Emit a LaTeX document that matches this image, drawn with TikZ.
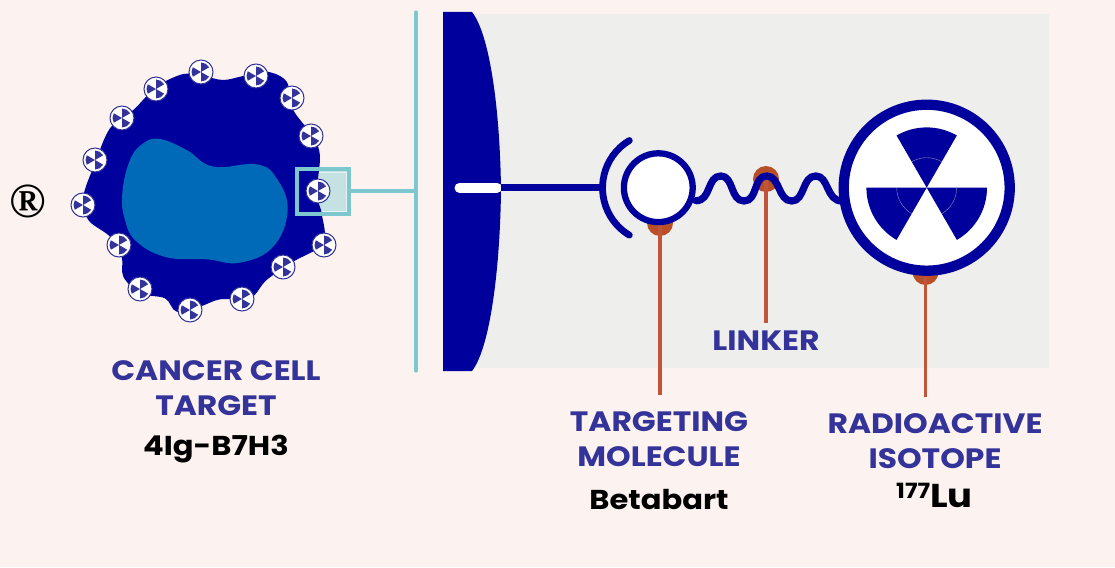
\documentclass[tikz,border=0pt]{standalone}
\usepackage{fontspec}
\setmainfont{Poppins}[FakeStretch=1.12]
\newfontfamily\regmark{Liberation Serif}
\usetikzlibrary{calc}
\definecolor{paper}{HTML}{FCF2EF}
\definecolor{panel}{HTML}{EEEEEC}
\definecolor{navy}{HTML}{00009C}
\definecolor{nucleusblue}{HTML}{0069B8}
\definecolor{iconblue}{HTML}{333399}
\definecolor{railteal}{HTML}{7CC8CE}
\definecolor{palet}{HTML}{C5E2E2}
\definecolor{rust}{HTML}{B84F27}
\definecolor{rustline}{HTML}{C0553A}
\tikzset{
  x=1pt,y=-1pt,
  heading/.style={font=\bfseries\fontsize{28}{30}\selectfont,text=iconblue,inner sep=0pt,anchor=center},
  agent/.style={font=\bfseries\fontsize{27.3}{30}\selectfont,text=black,inner sep=0pt,anchor=center},
  tealline/.style={draw=railteal,line width=3.2pt},
  leader/.style={draw=rustline,line width=3.3pt},
  dot/.style={circle,fill=rust,minimum size=26pt,inner sep=0pt},
  ringnode/.style={circle,draw=navy,fill=white,inner sep=0pt},
  target/.style={circle,draw=iconblue,fill=white,line width=1pt,minimum size=24pt,inner sep=0pt,
    path picture={
      \fill[iconblue] (path picture bounding box.center) -- +(150:9.5pt) arc[start angle=150,end angle=210,radius=9.5pt] -- cycle;
      \fill[iconblue] (path picture bounding box.center) -- +(30:9.5pt) arc[start angle=30,end angle=90,radius=9.5pt] -- cycle;
      \fill[iconblue] (path picture bounding box.center) -- +(-30:9.5pt) arc[start angle=-30,end angle=-90,radius=9.5pt] -- cycle;
    }},
}
\begin{document}
\begin{tikzpicture}
\useasboundingbox (0,0) rectangle (1115,567);
\fill[paper] (0,0) rectangle (1115,567);

% Detail panel and cell membrane seen up close
\fill[panel] (470,14) rectangle (1049,368);
\fill[navy] (443,12) -- (472,12) .. controls (490,35) and (500,110) .. (501,190)
  .. controls (500,270) and (490,348) .. (472,371) -- (443,371) -- cycle;

% Highlight square behind the cell
\fill[palet] (297,169) rectangle (349,214);
\draw[white,opacity=.6,line width=1pt] (300,172) rectangle (346,211);

% Cell body and nucleus, outlined on a 3x grid
\begin{scope}[shift={(0,50)},x=0.3333pt,y=-0.3333pt]
  \fill[navy] plot[smooth cycle,tension=0.55] coordinates {
    (550,72) (610,78) (670,90) (730,78) (800,65) (860,95) (880,180) (940,260) (960,320)
    (950,430) (965,490) (970,580) (880,635) (800,690) (750,745) (660,748) (600,770)
    (530,785) (495,745) (420,730) (370,680) (365,620) (330,560) (265,510) (250,440)
    (285,340) (330,235) (400,180) (470,110)};
  \fill[nucleusblue] plot[smooth cycle,tension=0.7] coordinates {
    (480,267) (560,300) (640,350) (770,343) (830,385) (863,480) (820,590) (720,638)
    (620,628) (500,622) (410,575) (375,510) (367,430) (390,330) (430,280)};
\end{scope}

% Highlight frame
\draw[tealline] (297,169) rectangle (349,214);

% Antigen markers around the cell
\foreach \n/\cx/\cy in {a/201/72, b/256/76, c/292/98, d/311/136, e/318/191, f/324/245,
    g/283/267, h/242/299, i/190/310, j/140/289, k/119/245, l/83/205, m/95/160, n/122/118, o/156/89}
  \node[target] (mark\n) at (\cx,\cy) {};

% Callout from the highlighted square to the detail view
\coordinate (frameedge) at (349,191);
\coordinate (railtop) at (416,12);
\coordinate (railbottom) at (416,371);
\coordinate (railjoin) at (416,191);
\draw[tealline] (frameedge) -- (railjoin);
\draw[tealline,line cap=round] (railtop) -- (railbottom);

% Registered trademark sign
\node[inner sep=0pt,font=\regmark\bfseries\fontsize{49}{49}\selectfont] (regsign) at (28,201) {®};

% Rust anchor dots and their leaders
\node[dot] (tdot) at (660,223) {};
\node[dot] (ldot) at (766,179) {};
\node[dot] (idot) at (925.5,272) {};
\coordinate (tend) at (660,395);
\coordinate (lend) at (766,323);
\coordinate (iend) at (925.5,397);
\draw[leader] (tdot.center) -- (tend);
\draw[leader] (ldot.center) -- (lend);
\draw[leader] (idot.center) -- (iend);

% Receptor stem, pill and binding cup
\coordinate (pillL) at (459.5,187.7);
\coordinate (pillR) at (497,187.7);
\coordinate (stemL) at (501,187.7);
\coordinate (stemR) at (604,187.7);
\draw[white,line width=10pt,line cap=round] (pillL) -- (pillR);
\draw[navy,line width=7pt] (stemL) -- (stemR);
\draw[navy,line width=6.8pt,line cap=round]
  (629.3,140.5) arc[start angle=-121,end angle=-239,radius=55.2];

% Linker: sine-like tether between the two spheres
\draw[navy,line width=7.2pt,line cap=round]
  (696,200.7) .. controls (711,201) and (707,176) .. (720.7,176)
  .. controls (734,176) and (730,201) .. (744,201)
  .. controls (758,201) and (753,176) .. (766.7,176)
  .. controls (780,176) and (778,201) .. (791.7,201)
  .. controls (805,201) and (802,176) .. (815.7,176)
  .. controls (829,176) and (826,201) .. (842,201);

% Targeting molecule
\node[ringnode,line width=6.3pt,minimum size=68.8pt] (tmol) at (658.3,187.7) {};

% Radioactive isotope with its trefoil
\node[ringnode,line width=10.3pt,minimum size=166pt] (iso) at (926.7,187.7) {};
\foreach \sa in {0,120,240}
  \fill[navy] (iso.center) -- +(\sa:60.3) arc[start angle=\sa,end angle=\sa+60,radius=60.3] -- cycle;
\foreach \sa in {0,120,240}
  \draw[iconblue!55!white,line width=0.4pt] ($(iso.center)+(\sa:30)$) arc[start angle=\sa,end angle=\sa+60,radius=30];

% Labels
\node[heading] (t1) at (216,371) {CANCER CELL};
\node[heading] (t2) at (216,406) {TARGET};
\node[agent] (t3) at (216,449) {4Ig-B7H3};
\node[heading] (t4) at (659,422) {TARGETING};
\node[heading] (t5) at (659,457) {MOLECULE};
\node[agent] (t6) at (659,499.5) {Betabart};
\node[heading] (t7) at (766,341) {LINKER};
\node[heading] (t8) at (935,424) {RADIOACTIVE};
\node[heading] (t9) at (935,459) {ISOTOPE};
\node[agent] (t10) at (934.5,495.5) {\raisebox{9pt}{\fontsize{21}{21}\selectfont 177}\fontsize{33}{33}\selectfont Lu};
\end{tikzpicture}
\end{document}
